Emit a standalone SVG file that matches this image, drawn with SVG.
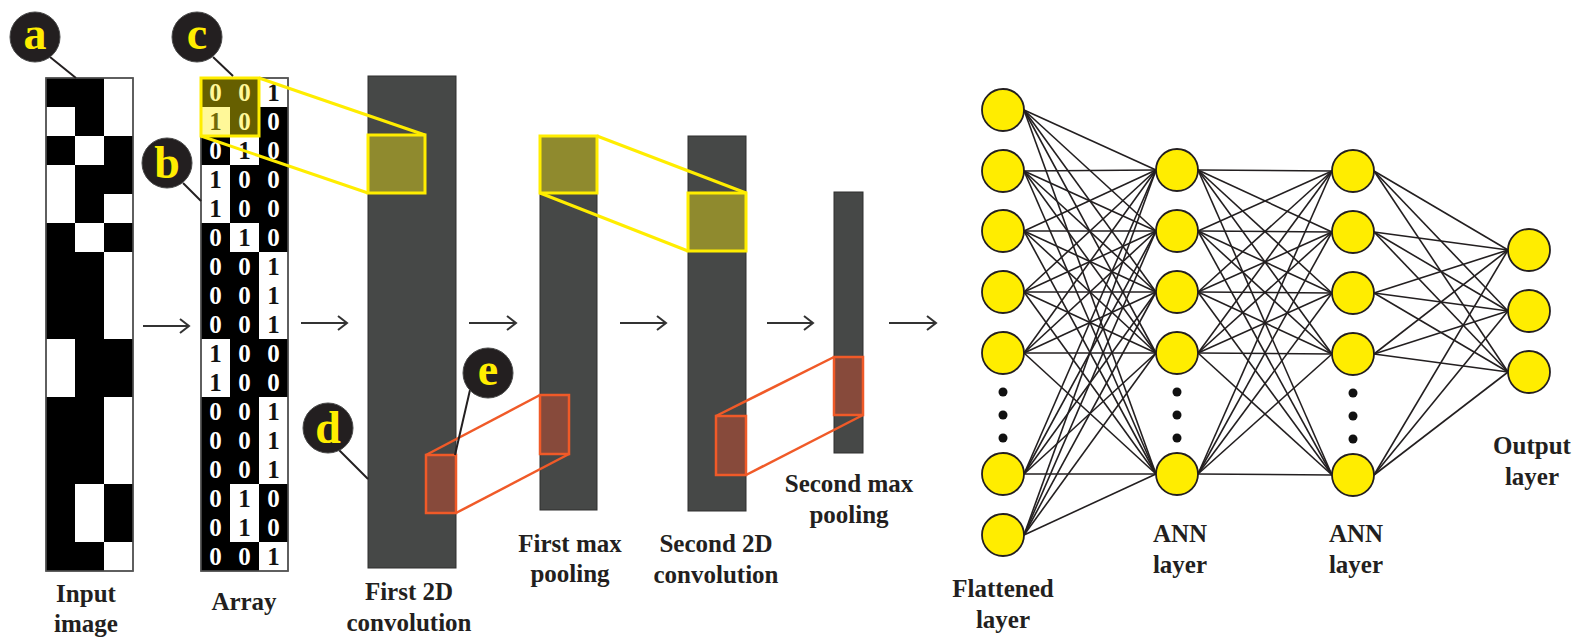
<svg xmlns="http://www.w3.org/2000/svg" width="1582" height="639" viewBox="0 0 1582 639">
  <style>
    .lbl { font-family: "Liberation Serif", "DejaVu Serif", serif; font-weight: bold; font-size: 25px; fill: #231f20; text-anchor: middle; }
    .dig { font-family: "Liberation Serif", "DejaVu Serif", serif; font-weight: bold; font-size: 25px; text-anchor: middle; }
    .d0 { fill: #ffffff; }
    .d1 { fill: #111111; }
    .tag circle { fill: #231f20; stroke: #4a4a4a; stroke-width: 1; }
    .tag text { font-family: "Liberation Serif", "DejaVu Serif", serif; font-weight: bold; font-size: 46px; fill: #ffed00; text-anchor: middle; }
    .tag line { stroke: #231f20; stroke-width: 2; }
    .grid { fill: #ffffff; stroke: #555555; stroke-width: 1.5; }
    .blk { fill: #000000; }
    .bar { fill: #464847; stroke: #2e2f2f; stroke-width: 1; }
    .ypatch { fill: #8f8a2e; stroke: #ffed00; stroke-width: 3; }
    .yline { stroke: #ffed00; stroke-width: 3; fill: none; }
    .opatch { fill: #874a3b; stroke: #f05a28; stroke-width: 2.5; }
    .oline { stroke: #f05a28; stroke-width: 2.5; fill: none; }
    .flow { stroke: #333333; stroke-width: 2; fill: none; marker-end: url(#chev); }
    .edge line { stroke: #231f20; stroke-width: 1.6; }
    .neuron { fill: #ffed00; stroke: #231f20; stroke-width: 1.8; }
    .dot { fill: #111111; }
  </style>
  <defs>
    <marker id="chev" markerWidth="12" markerHeight="16" refX="10" refY="8" orient="auto" markerUnits="userSpaceOnUse">
      <path d="M1,1 L10,8 L1,15" fill="none" stroke="#333333" stroke-width="2"/>
    </marker>
  </defs>

  <!-- Input image: 3 x 17 binary pixel grid -->
  <g id="input-image">
    <rect class="grid" x="46" y="78" width="87" height="493"/>
    <rect class="blk" x="46" y="78" width="29" height="29"/>
    <rect class="blk" x="46" y="136" width="29" height="29"/>
    <rect class="blk" x="46" y="223" width="29" height="116"/>
    <rect class="blk" x="46" y="397" width="29" height="174"/>
    <rect class="blk" x="75" y="78" width="29" height="58"/>
    <rect class="blk" x="75" y="165" width="29" height="58"/>
    <rect class="blk" x="75" y="252" width="29" height="232"/>
    <rect class="blk" x="75" y="542" width="29" height="29"/>
    <rect class="blk" x="104" y="136" width="29" height="58"/>
    <rect class="blk" x="104" y="223" width="29" height="29"/>
    <rect class="blk" x="104" y="339" width="29" height="58"/>
    <rect class="blk" x="104" y="484" width="29" height="58"/>
    <rect x="46" y="78" width="87" height="493" fill="none" stroke="#555555" stroke-width="1.5"/>
    <text class="lbl" x="86" y="602">Input</text>
    <text class="lbl" x="86" y="632">image</text>
  </g>

  <!-- Array: numeric version of the pixel grid -->
  <g id="array">
    <rect class="grid" x="201" y="78" width="87" height="493"/>
    <rect class="blk" x="201" y="78" width="29" height="29"/>
    <rect class="blk" x="201" y="136" width="29" height="29"/>
    <rect class="blk" x="201" y="223" width="29" height="116"/>
    <rect class="blk" x="201" y="397" width="29" height="174"/>
    <rect class="blk" x="230" y="78" width="29" height="58"/>
    <rect class="blk" x="230" y="165" width="29" height="58"/>
    <rect class="blk" x="230" y="252" width="29" height="232"/>
    <rect class="blk" x="230" y="542" width="29" height="29"/>
    <rect class="blk" x="259" y="107" width="29" height="145"/>
    <rect class="blk" x="259" y="339" width="29" height="58"/>
    <rect class="blk" x="259" y="484" width="29" height="58"/>
    <rect x="201" y="78" width="87" height="493" fill="none" stroke="#555555" stroke-width="1.5"/>
    <!-- column 1 -->
    <text class="dig d0" x="215.5" y="101">0</text>
    <text class="dig d1" x="215.5" y="130">1</text>
    <text class="dig d0" x="215.5" y="159">0</text>
    <text class="dig d1" x="215.5" y="188">1</text>
    <text class="dig d1" x="215.5" y="217">1</text>
    <text class="dig d0" x="215.5" y="246">0</text>
    <text class="dig d0" x="215.5" y="275">0</text>
    <text class="dig d0" x="215.5" y="304">0</text>
    <text class="dig d0" x="215.5" y="333">0</text>
    <text class="dig d1" x="215.5" y="362">1</text>
    <text class="dig d1" x="215.5" y="391">1</text>
    <text class="dig d0" x="215.5" y="420">0</text>
    <text class="dig d0" x="215.5" y="449">0</text>
    <text class="dig d0" x="215.5" y="478">0</text>
    <text class="dig d0" x="215.5" y="507">0</text>
    <text class="dig d0" x="215.5" y="536">0</text>
    <text class="dig d0" x="215.5" y="565">0</text>
    <!-- column 2 -->
    <text class="dig d0" x="244.5" y="101">0</text>
    <text class="dig d0" x="244.5" y="130">0</text>
    <text class="dig d1" x="244.5" y="159">1</text>
    <text class="dig d0" x="244.5" y="188">0</text>
    <text class="dig d0" x="244.5" y="217">0</text>
    <text class="dig d1" x="244.5" y="246">1</text>
    <text class="dig d0" x="244.5" y="275">0</text>
    <text class="dig d0" x="244.5" y="304">0</text>
    <text class="dig d0" x="244.5" y="333">0</text>
    <text class="dig d0" x="244.5" y="362">0</text>
    <text class="dig d0" x="244.5" y="391">0</text>
    <text class="dig d0" x="244.5" y="420">0</text>
    <text class="dig d0" x="244.5" y="449">0</text>
    <text class="dig d0" x="244.5" y="478">0</text>
    <text class="dig d1" x="244.5" y="507">1</text>
    <text class="dig d1" x="244.5" y="536">1</text>
    <text class="dig d0" x="244.5" y="565">0</text>
    <!-- column 3 -->
    <text class="dig d1" x="273.5" y="101">1</text>
    <text class="dig d0" x="273.5" y="130">0</text>
    <text class="dig d0" x="273.5" y="159">0</text>
    <text class="dig d0" x="273.5" y="188">0</text>
    <text class="dig d0" x="273.5" y="217">0</text>
    <text class="dig d0" x="273.5" y="246">0</text>
    <text class="dig d1" x="273.5" y="275">1</text>
    <text class="dig d1" x="273.5" y="304">1</text>
    <text class="dig d1" x="273.5" y="333">1</text>
    <text class="dig d0" x="273.5" y="362">0</text>
    <text class="dig d0" x="273.5" y="391">0</text>
    <text class="dig d1" x="273.5" y="420">1</text>
    <text class="dig d1" x="273.5" y="449">1</text>
    <text class="dig d1" x="273.5" y="478">1</text>
    <text class="dig d0" x="273.5" y="507">0</text>
    <text class="dig d0" x="273.5" y="536">0</text>
    <text class="dig d1" x="273.5" y="565">1</text>
    <!-- 2x2 kernel window -->
    <rect x="201" y="78" width="58" height="58" fill="#ffed00" fill-opacity="0.4" stroke="#ffed00" stroke-width="3"/>
    <text class="lbl" x="244" y="610">Array</text>
  </g>

  <!-- Feature maps -->
  <g id="conv1">
    <rect class="bar" x="368" y="76" width="88" height="492"/>
    <rect class="ypatch" x="368" y="135" width="57" height="58"/>
    <rect class="opatch" x="426" y="455" width="30" height="58"/>
    <text class="lbl" x="409" y="600">First 2D</text>
    <text class="lbl" x="409" y="631">convolution</text>
  </g>
  <g id="pool1">
    <rect class="bar" x="540" y="136" width="57" height="374"/>
    <rect class="ypatch" x="540" y="136" width="57" height="57"/>
    <rect class="opatch" x="540" y="395" width="29" height="59"/>
    <text class="lbl" x="570" y="552">First max</text>
    <text class="lbl" x="570" y="582">pooling</text>
  </g>
  <g id="conv2">
    <rect class="bar" x="688" y="136" width="58" height="375"/>
    <rect class="ypatch" x="688" y="193" width="58" height="58"/>
    <rect class="opatch" x="716" y="416" width="30" height="59"/>
    <text class="lbl" x="716" y="552">Second 2D</text>
    <text class="lbl" x="716" y="583">convolution</text>
  </g>
  <g id="pool2">
    <rect class="bar" x="834" y="192" width="29" height="261"/>
    <rect class="opatch" x="834" y="357" width="29" height="58"/>
    <text class="lbl" x="849" y="492">Second max</text>
    <text class="lbl" x="849" y="523">pooling</text>
  </g>

  <!-- Connectors: projection lines and flow arrows -->
  <g id="connectors">
    <line class="yline" x1="259" y1="78" x2="425" y2="135"/>
    <line class="yline" x1="201" y1="136" x2="368" y2="193"/>
    <line class="yline" x1="597" y1="136" x2="746" y2="193"/>
    <line class="yline" x1="540" y1="193" x2="688" y2="251"/>
    <line class="oline" x1="426" y1="455" x2="540" y2="395"/>
    <line class="oline" x1="456" y1="513" x2="569" y2="454"/>
    <line class="oline" x1="716" y1="416" x2="834" y2="357"/>
    <line class="oline" x1="746" y1="475" x2="863" y2="415"/>
    <path class="flow" d="M143,326 H189"/>
    <path class="flow" d="M301,323 H347"/>
    <path class="flow" d="M469,323 H516"/>
    <path class="flow" d="M620,323 H666"/>
    <path class="flow" d="M767,323 H813"/>
    <path class="flow" d="M889,323 H936"/>
    <g class="edge">
      <!-- flattened -> ANN 1 -->
      <line x1="1024" y1="110" x2="1156" y2="170"/><line x1="1024" y1="110" x2="1156" y2="231"/><line x1="1024" y1="110" x2="1156" y2="292"/><line x1="1024" y1="110" x2="1156" y2="353"/><line x1="1024" y1="110" x2="1156" y2="474"/>
      <line x1="1024" y1="171" x2="1156" y2="170"/><line x1="1024" y1="171" x2="1156" y2="231"/><line x1="1024" y1="171" x2="1156" y2="292"/><line x1="1024" y1="171" x2="1156" y2="353"/><line x1="1024" y1="171" x2="1156" y2="474"/>
      <line x1="1024" y1="231" x2="1156" y2="170"/><line x1="1024" y1="231" x2="1156" y2="231"/><line x1="1024" y1="231" x2="1156" y2="292"/><line x1="1024" y1="231" x2="1156" y2="353"/><line x1="1024" y1="231" x2="1156" y2="474"/>
      <line x1="1024" y1="292" x2="1156" y2="170"/><line x1="1024" y1="292" x2="1156" y2="231"/><line x1="1024" y1="292" x2="1156" y2="292"/><line x1="1024" y1="292" x2="1156" y2="353"/><line x1="1024" y1="292" x2="1156" y2="474"/>
      <line x1="1024" y1="353" x2="1156" y2="170"/><line x1="1024" y1="353" x2="1156" y2="231"/><line x1="1024" y1="353" x2="1156" y2="292"/><line x1="1024" y1="353" x2="1156" y2="353"/><line x1="1024" y1="353" x2="1156" y2="474"/>
      <line x1="1024" y1="474" x2="1156" y2="170"/><line x1="1024" y1="474" x2="1156" y2="231"/><line x1="1024" y1="474" x2="1156" y2="292"/><line x1="1024" y1="474" x2="1156" y2="353"/><line x1="1024" y1="474" x2="1156" y2="474"/>
      <line x1="1024" y1="535" x2="1156" y2="170"/><line x1="1024" y1="535" x2="1156" y2="231"/><line x1="1024" y1="535" x2="1156" y2="292"/><line x1="1024" y1="535" x2="1156" y2="353"/><line x1="1024" y1="535" x2="1156" y2="474"/>
      <!-- ANN 1 -> ANN 2 -->
      <line x1="1198" y1="170" x2="1332" y2="171"/><line x1="1198" y1="170" x2="1332" y2="232"/><line x1="1198" y1="170" x2="1332" y2="293"/><line x1="1198" y1="170" x2="1332" y2="354"/><line x1="1198" y1="170" x2="1332" y2="475"/>
      <line x1="1198" y1="231" x2="1332" y2="171"/><line x1="1198" y1="231" x2="1332" y2="232"/><line x1="1198" y1="231" x2="1332" y2="293"/><line x1="1198" y1="231" x2="1332" y2="354"/><line x1="1198" y1="231" x2="1332" y2="475"/>
      <line x1="1198" y1="292" x2="1332" y2="171"/><line x1="1198" y1="292" x2="1332" y2="232"/><line x1="1198" y1="292" x2="1332" y2="293"/><line x1="1198" y1="292" x2="1332" y2="354"/><line x1="1198" y1="292" x2="1332" y2="475"/>
      <line x1="1198" y1="353" x2="1332" y2="171"/><line x1="1198" y1="353" x2="1332" y2="232"/><line x1="1198" y1="353" x2="1332" y2="293"/><line x1="1198" y1="353" x2="1332" y2="354"/><line x1="1198" y1="353" x2="1332" y2="475"/>
      <line x1="1198" y1="474" x2="1332" y2="171"/><line x1="1198" y1="474" x2="1332" y2="232"/><line x1="1198" y1="474" x2="1332" y2="293"/><line x1="1198" y1="474" x2="1332" y2="354"/><line x1="1198" y1="474" x2="1332" y2="475"/>
      <!-- ANN 2 -> output -->
      <line x1="1374" y1="171" x2="1508" y2="250"/><line x1="1374" y1="171" x2="1508" y2="311"/><line x1="1374" y1="171" x2="1508" y2="372"/>
      <line x1="1374" y1="232" x2="1508" y2="250"/><line x1="1374" y1="232" x2="1508" y2="311"/><line x1="1374" y1="232" x2="1508" y2="372"/>
      <line x1="1374" y1="293" x2="1508" y2="250"/><line x1="1374" y1="293" x2="1508" y2="311"/><line x1="1374" y1="293" x2="1508" y2="372"/>
      <line x1="1374" y1="354" x2="1508" y2="250"/><line x1="1374" y1="354" x2="1508" y2="311"/><line x1="1374" y1="354" x2="1508" y2="372"/>
      <line x1="1374" y1="475" x2="1508" y2="250"/><line x1="1374" y1="475" x2="1508" y2="311"/><line x1="1374" y1="475" x2="1508" y2="372"/>
    </g>
  </g>

  <!-- Dense layers -->
  <g id="flattened-layer">
    <circle class="neuron" cx="1003" cy="110" r="21"/>
    <circle class="neuron" cx="1003" cy="171" r="21"/>
    <circle class="neuron" cx="1003" cy="231" r="21"/>
    <circle class="neuron" cx="1003" cy="292" r="21"/>
    <circle class="neuron" cx="1003" cy="353" r="21"/>
    <circle class="dot" cx="1003" cy="392" r="4.5"/>
    <circle class="dot" cx="1003" cy="415" r="4.5"/>
    <circle class="dot" cx="1003" cy="438" r="4.5"/>
    <circle class="neuron" cx="1003" cy="474" r="21"/>
    <circle class="neuron" cx="1003" cy="535" r="21"/>
    <text class="lbl" x="1003" y="597">Flattened</text>
    <text class="lbl" x="1003" y="628">layer</text>
  </g>
  <g id="ann-layer-1">
    <circle class="neuron" cx="1177" cy="170" r="21"/>
    <circle class="neuron" cx="1177" cy="231" r="21"/>
    <circle class="neuron" cx="1177" cy="292" r="21"/>
    <circle class="neuron" cx="1177" cy="353" r="21"/>
    <circle class="dot" cx="1177" cy="392" r="4.5"/>
    <circle class="dot" cx="1177" cy="415" r="4.5"/>
    <circle class="dot" cx="1177" cy="438" r="4.5"/>
    <circle class="neuron" cx="1177" cy="474" r="21"/>
    <text class="lbl" x="1180" y="542">ANN</text>
    <text class="lbl" x="1180" y="573">layer</text>
  </g>
  <g id="ann-layer-2">
    <circle class="neuron" cx="1353" cy="171" r="21"/>
    <circle class="neuron" cx="1353" cy="232" r="21"/>
    <circle class="neuron" cx="1353" cy="293" r="21"/>
    <circle class="neuron" cx="1353" cy="354" r="21"/>
    <circle class="dot" cx="1353" cy="393" r="4.5"/>
    <circle class="dot" cx="1353" cy="416" r="4.5"/>
    <circle class="dot" cx="1353" cy="439" r="4.5"/>
    <circle class="neuron" cx="1353" cy="475" r="21"/>
    <text class="lbl" x="1356" y="542">ANN</text>
    <text class="lbl" x="1356" y="573">layer</text>
  </g>
  <g id="output-layer">
    <circle class="neuron" cx="1529" cy="250" r="21"/>
    <circle class="neuron" cx="1529" cy="311" r="21"/>
    <circle class="neuron" cx="1529" cy="372" r="21"/>
    <text class="lbl" x="1532" y="454">Output</text>
    <text class="lbl" x="1532" y="485">layer</text>
  </g>

  <!-- Letter callouts -->
  <g id="tag-a" class="tag">
    <line x1="50" y1="57" x2="76" y2="78"/>
    <circle cx="35" cy="37" r="25"/>
    <text x="35" y="49">a</text>
  </g>
  <g id="tag-b" class="tag">
    <line x1="183" y1="183" x2="201" y2="201"/>
    <circle cx="167" cy="163" r="25"/>
    <text x="167" y="178">b</text>
  </g>
  <g id="tag-c" class="tag">
    <line x1="213" y1="57" x2="233" y2="76"/>
    <circle cx="197" cy="37" r="25"/>
    <text x="197" y="49">c</text>
  </g>
  <g id="tag-d" class="tag">
    <line x1="339" y1="450" x2="368" y2="479"/>
    <circle cx="328" cy="428" r="25"/>
    <text x="328" y="443">d</text>
  </g>
  <g id="tag-e" class="tag">
    <line x1="470" y1="390" x2="455" y2="455"/>
    <circle cx="488" cy="373" r="25"/>
    <text x="488" y="385">e</text>
  </g>
</svg>
